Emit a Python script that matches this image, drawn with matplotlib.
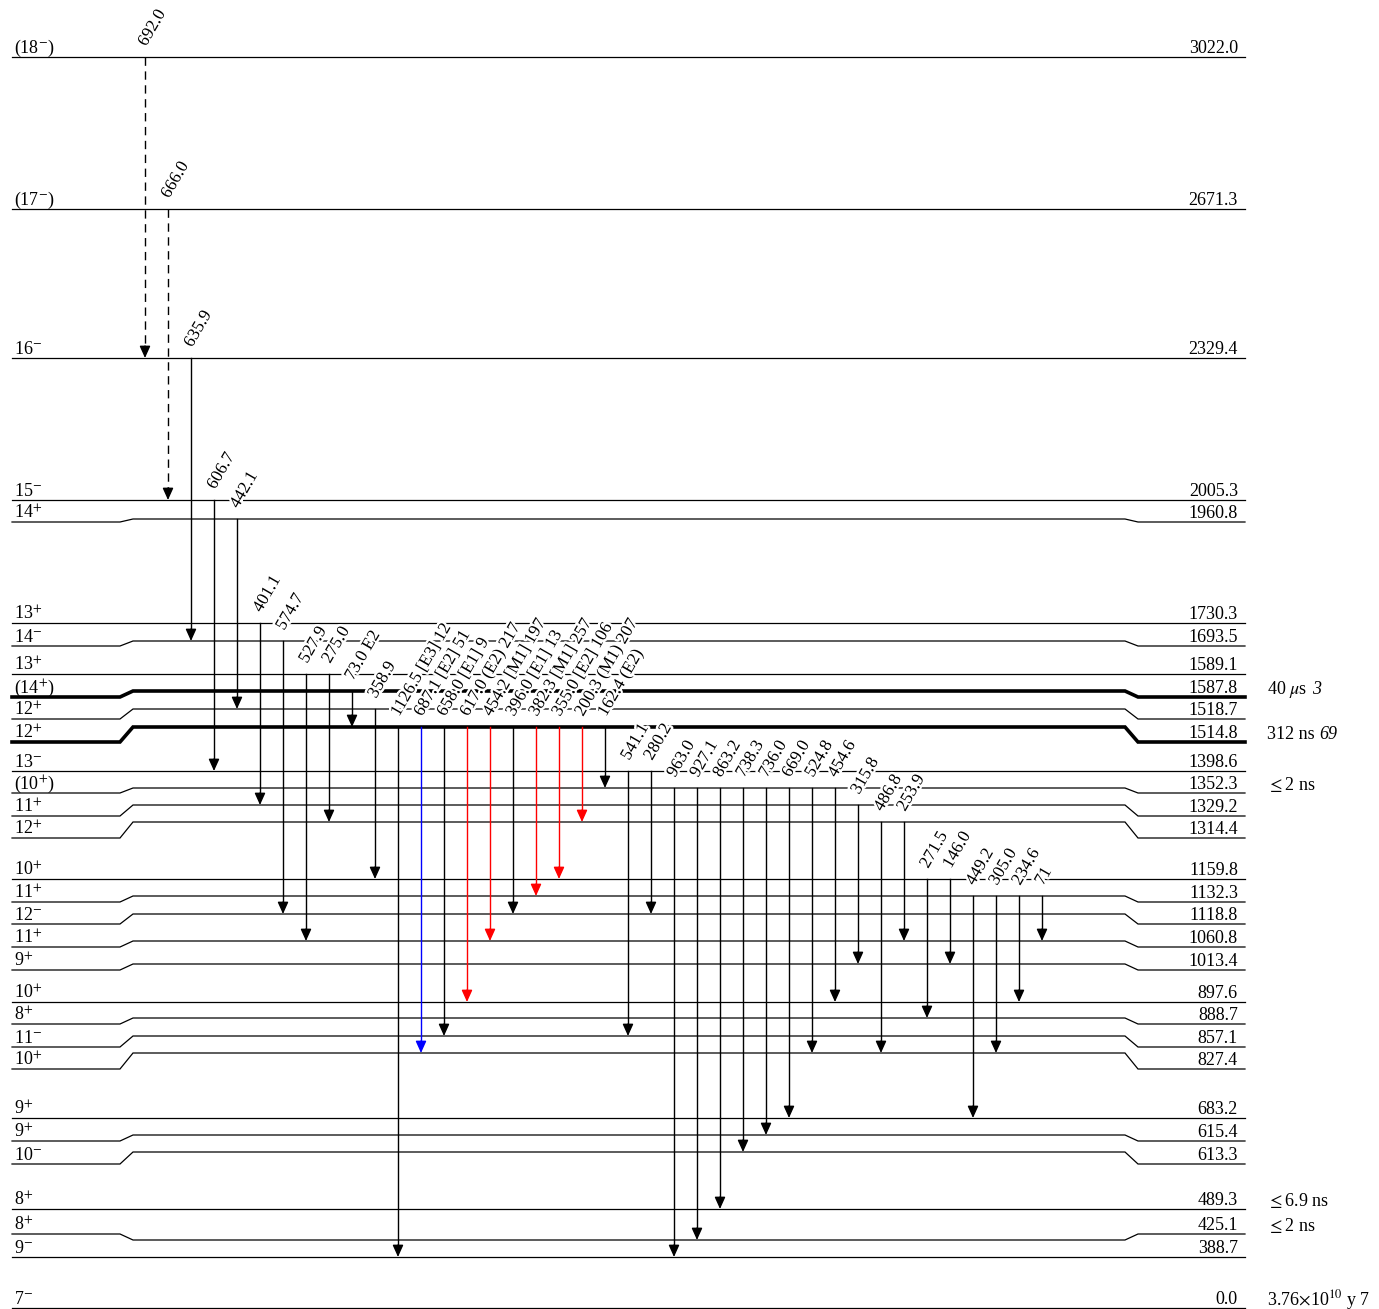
import matplotlib
matplotlib.use("Agg")
import matplotlib.pyplot as plt
import matplotlib.patheffects as pe

plt.rcParams['font.family'] = ['Liberation Serif', 'DejaVu Serif']
plt.rcParams['mathtext.fontset'] = 'stix'

# levels, top to bottom (keV) and their spin/parity
level_energy = [3022.0, 2671.3, 2329.4, 2005.3, 1960.8, 1730.3, 1693.5, 1589.1,
                1587.8, 1518.7, 1514.8, 1398.6, 1352.3, 1329.2, 1314.4, 1159.8,
                1132.3, 1118.8, 1060.8, 1013.4, 897.6, 888.7, 857.1, 827.4,
                683.2, 615.4, 613.3, 489.3, 425.1, 388.7, 0.0]
level_spin = ['(18-)', '(17-)', '16-', '15-', '14+', '13+', '14-', '13+',
              '(14+)', '12+', '12+', '13-', '(10+)', '11+', '12+', '10+',
              '11+', '12-', '11+', '9+', '10+', '8+', '11-', '10+',
              '9+', '9+', '10-', '8+', '8+', '9-', '7-']

# half-lives written at the right of some levels (value, italic uncertainty)
half_life = {1587.8: r'40 $\mu$s',
             1514.8: '312 ns',
             1352.3: r'$\leq$2 ns',
             489.3: r'$\leq$6.9 ns',
             425.1: r'$\leq$2 ns',
             0.0: r'3.76$\times$10$^{10}$ y 7'}
half_life_unc = {1587.8: '3', 1514.8: '69'}
isomers = [1587.8, 1514.8]

# gamma transitions: label, initial level, final level
gamma_label = ['692.0', '666.0', '635.9', '606.7', '442.1', '401.1', '574.7',
               '527.9', '275.0', '73.0 E2', '358.9', '1126.5 [E3] 12',
               '687.1 [E2] 51', '658.0 [E1] 9', '617.0 (E2) 217',
               '454.2 [M1] 197', '396.0 [E1] 13', '382.3 [M1] 257',
               '355.0 [E2] 106', '200.3 (M1) 207', '162.4 (E2)', '541.1',
               '280.2', '963.0', '927.1', '863.2', '738.3', '736.0', '669.0',
               '524.8', '454.6', '315.8', '486.8', '253.9', '271.5', '146.0',
               '449.2', '305.0', '234.6', '71']
gamma_from = [3022.0, 2671.3, 2329.4, 2005.3, 1960.8, 1730.3, 1693.5,
              1589.1, 1589.1, 1587.8, 1518.7, 1514.8,
              1514.8, 1514.8, 1514.8,
              1514.8, 1514.8, 1514.8,
              1514.8, 1514.8, 1514.8, 1398.6,
              1398.6, 1352.3, 1352.3, 1352.3, 1352.3, 1352.3, 1352.3,
              1352.3, 1352.3, 1329.2, 1314.4, 1314.4, 1159.8, 1159.8,
              1132.3, 1132.3, 1132.3, 1132.3]
gamma_to = [2329.4, 2005.3, 1693.5, 1398.6, 1518.7, 1329.2, 1118.8,
            1060.8, 1314.4, 1514.8, 1159.8, 388.7,
            827.4, 857.1, 897.6,
            1060.8, 1118.8, 1132.3,
            1159.8, 1314.4, 1352.3, 857.1,
            1118.8, 388.7, 425.1, 489.3, 613.3, 615.4, 683.2,
            827.4, 897.6, 1013.4, 827.4, 1060.8, 888.7, 1013.4,
            683.2, 827.4, 897.6, 1060.8]
uncertain = ['692.0', '666.0']
gamma_color = {'687.1 [E2] 51': 'blue', '617.0 (E2) 217': 'red',
               '454.2 [M1] 197': 'red', '382.3 [M1] 257': 'red',
               '355.0 [E2] 106': 'red', '200.3 (M1) 207': 'red'}

# drawing layout (pixels): label row and spread-out row of each level
side_y = [57, 209, 358, 500, 522, 623, 646, 674, 697, 719, 742, 771, 793,
          816, 838, 879, 902, 924, 947, 970, 1002, 1024, 1047, 1069, 1118,
          1141, 1164, 1209, 1234, 1257, 1308]
mid_y = [57, 209, 358, 500, 519, 623, 641, 674, 691, 709, 727, 771, 788,
         805, 822, 879, 896, 914, 941, 964, 1002, 1018, 1036, 1053, 1118,
         1135, 1152, 1209, 1240, 1257, 1308]
x_left, x_bend, x_flat, x_flat_end, x_bend_end, x_right = 12, 120, 133, 1125, 1138, 1245
x_first, x_step = 145, 23

fig = plt.figure(figsize=(13.79, 13.09), dpi=100)
ax = fig.add_axes([0, 0, 1, 1])
ax.set_xlim(0, 1379)
ax.set_ylim(1309, 0)
ax.axis('off')
renderer = fig.canvas.get_renderer()

row = {e: (s, m) for e, s, m in zip(level_energy, side_y, mid_y)}

for e, spin in zip(level_energy, level_spin):
    s, m = row[e]
    lw = 2.6 if e in isomers else 0.9
    ax.plot([x_left, x_bend, x_flat, x_flat_end, x_bend_end, x_right],
            [s, s, m, m, s, s], color='black', lw=lw, zorder=1,
            solid_joinstyle='miter')
    num = spin.strip('()')[:-1]
    sign = '+' if spin.strip('()')[-1] == '+' else '-'
    txt = num + r'$^{' + sign + '}$'
    if spin.startswith('('):
        txt = '(' + txt + ')'
    ax.text(14, s - 4, txt, fontsize=13, ha='left', va='baseline')
    ax.text(1238, s - 4, '%.1f' % e, fontsize=13, ha='right', va='baseline')
    if e in half_life:
        t = ax.text(1267, s - 3, half_life[e], fontsize=13, ha='left', va='baseline')
        if e in half_life_unc:
            bb = t.get_window_extent(renderer)
            x_end = ax.transData.inverted().transform((bb.x1, bb.y0))[0]
            ax.text(x_end + 5, s - 3, half_life_unc[e], fontsize=13,
                    fontstyle='italic', ha='left', va='baseline')

halo = [pe.withStroke(linewidth=3.5, foreground='white')]
for i, lab in enumerate(gamma_label):
    x = x_first + i * x_step
    y0 = row[gamma_from[i]][1]
    y1 = row[gamma_to[i]][1]
    col = gamma_color.get(lab, 'black')
    ls = (0, (6, 4)) if lab in uncertain else '-'
    ax.plot([x, x], [y0, y1 - 8], color=col, lw=1.0, ls=ls, zorder=2)
    ax.annotate('', xy=(x, y1), xytext=(x, y1 - 12),
                arrowprops=dict(arrowstyle='-|>,head_length=0.6,head_width=0.27',
                                mutation_scale=12, color=col, lw=1.0,
                                shrinkA=0, shrinkB=0), zorder=3)
    ax.text(x + 1, y0 - 10, lab, fontsize=12.5, rotation=60,
            rotation_mode='anchor', ha='left', va='baseline',
            path_effects=halo, zorder=4)

fig.savefig('out.png', dpi=100, facecolor='white')
